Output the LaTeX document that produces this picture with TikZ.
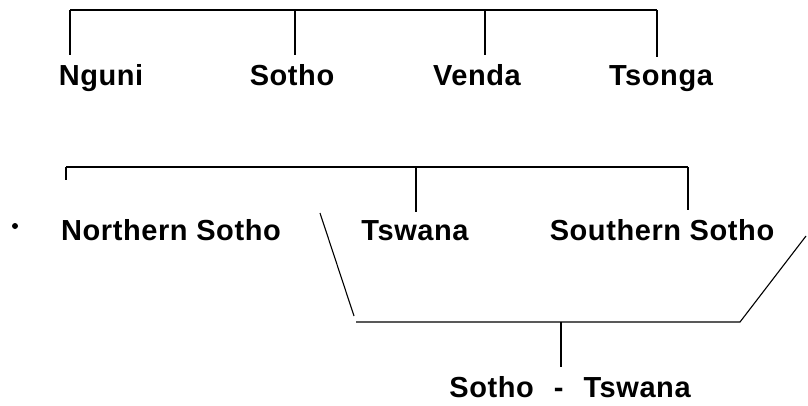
\documentclass[tikz,border=0pt]{standalone}
\usepackage{fontspec}
\setmainfont[LetterSpace=2]{Liberation Sans}
\begin{document}
\begin{tikzpicture}[x=1pt,y=-1pt,line width=1.1pt,
  every node/.style={font=\bfseries\fontsize{29}{31}\selectfont,inner sep=0pt,anchor=base},
  drop/.style={shorten >=8pt}
  ]
    \useasboundingbox (0,0) rectangle (808,405);

    % top row
    \node (nguni)  at (101,85) {Nguni};
    \node (sotho)  at (292,85) {Sotho};
    \node (venda)  at (477,85) {Venda};
    \node (tsonga) at (661,85) {Tsonga};
    \coordinate (ta) at (70,10);
    \coordinate (tb) at (295,10);
    \coordinate (tc) at (485,10);
    \coordinate (td) at (657,10);
    \draw (ta) -- (td);
    \draw[drop] (ta) -- (ta |- nguni.north);
    \draw[drop] (tb) -- (tb |- sotho.north);
    \draw[drop] (tc) -- (tc |- venda.north);
    \draw[drop] (td) -- (td |- tsonga.north);

    % second row
    \node (nsotho) at (171,240) {Northern Sotho};
    \node (tswana) at (415,240) {Tswana};
    \node (ssotho) at (662,240) {Southern Sotho};
    \fill (15,226) circle (3pt);
    \coordinate (sa) at (66,167);
    \coordinate (sb) at (416,167);
    \coordinate (sc) at (688,167);
    \draw (sa) -- (sc);
    \draw (sa) -- (66,180);
    \draw[drop] (sb) -- (sb |- tswana.north);
    \draw[drop] (sc) -- (sc |- ssotho.north);

    % sotho-tswana group
    \node (sotswana) at (570,397) {Sotho\hspace{20pt}-\hspace{20pt}Tswana};
    \coordinate (ba) at (356,322);
    \coordinate (bb) at (561,322);
    \coordinate (bc) at (740,322);
    \draw (320,213) -- (354,316);
    \draw (ba) -- (bc) -- (806,236);
    \draw[drop] (bb) -- (bb |- sotswana.north);
\end{tikzpicture}
\end{document}
